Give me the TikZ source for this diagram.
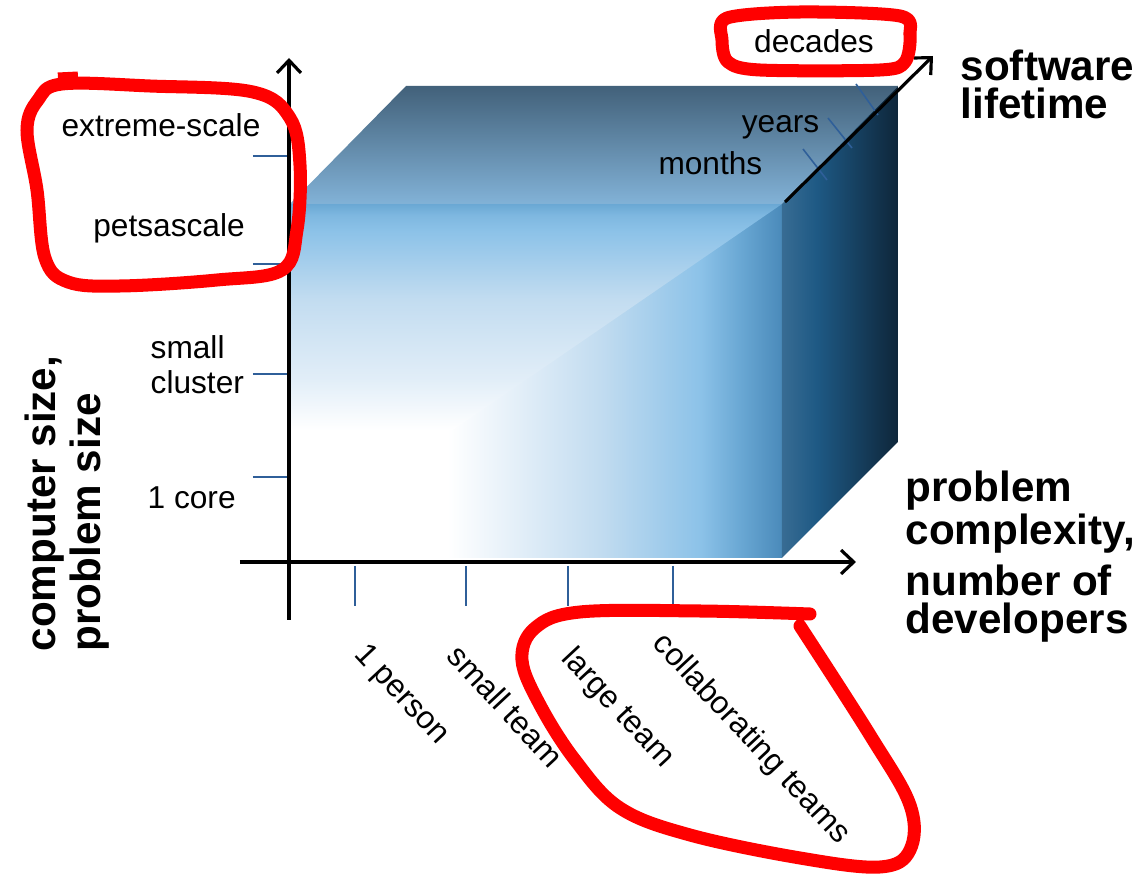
\documentclass[tikz,border=0pt]{standalone}
\usepackage{fontspec}
\setmainfont{Liberation Sans}
\usetikzlibrary{arrows.meta}

\definecolor{frontdark}{HTML}{4A8ABA}
\definecolor{frontmid}{HTML}{6AA8D4}
\definecolor{frontblue}{HTML}{8CC2E8}
\definecolor{frontpale}{HTML}{C2DCF0}
\definecolor{frontwash}{HTML}{E2EEF8}
\definecolor{topdark}{HTML}{42617A}
\definecolor{topmid}{HTML}{4E86AE}
\definecolor{toplight}{HTML}{82B2D7}
\definecolor{sidelight}{HTML}{386C93}
\definecolor{sidemid}{HTML}{1E5984}
\definecolor{sidedark}{HTML}{0E263A}
\definecolor{tickblue}{HTML}{2F5F99}
\definecolor{markred}{HTML}{FF0000}

\pgfdeclarehorizontalshading{frontacross}{100bp}{color(0bp)=(white); color(41bp)=(white); color(48.4bp)=(frontwash); color(56.5bp)=(frontpale); color(66.7bp)=(frontblue); color(70.7bp)=(frontmid); color(75bp)=(frontdark); color(100bp)=(frontdark)}
\pgfdeclareverticalshading{frontdown}{100bp}{color(0bp)=(white); color(25bp)=(white); color(36bp)=(frontwash); color(54bp)=(frontpale); color(69bp)=(frontblue); color(72.5bp)=(frontblue!60!frontmid); color(75bp)=(frontmid); color(100bp)=(frontmid)}
\pgfdeclarehorizontalshading{sideface}{100bp}{color(0bp)=(sidelight); color(25bp)=(sidelight); color(40bp)=(sidemid); color(75bp)=(sidedark); color(100bp)=(sidedark)}

\tikzset{
  axisline/.style={line width=0.9pt, -{Straight Barb[length=3.6pt,width=6.8pt,line width=0.9pt]}},
  tickmark/.style={tickblue, line width=0.45pt},
  markup/.style={markred, line width=3.7pt, line cap=round, line join=round},
  lbl/.style={font=\fontsize{9}{9.9}\selectfont, inner sep=0pt, align=left},
  axislbl/.style={font=\fontsize{12}{11}\selectfont\bfseries, inner sep=0pt, align=left}
}

\begin{document}
\begin{tikzpicture}[x=0.01cm, y=-0.01cm]
  \fill[white] (0,0) rectangle (1141,879);
  \useasboundingbox (0,0) rectangle (1141,879);

  % the box
  \shade[shading=frontacross] (290,204) rectangle (782,558);
  \shade[shading=frontdown] (290,204) -- (782,204) -- (453,430) -- (290,430) -- cycle;
  \shade[top color=topdark, middle color=topmid, bottom color=toplight] (290,204) -- (406,86) -- (898,86) -- (782,204) -- cycle;
  \shade[shading=sideface] (782,204) -- (898,86) -- (898,442) -- (782,558) -- cycle;

  \coordinate (ybot) at (289,620);
  \coordinate (ytop) at (289,58);
  \coordinate (xleft) at (240,562);
  \coordinate (xright) at (856,562);
  \coordinate (zstart) at (785,202);
  \coordinate (zend) at (933,56);

  \foreach \x in {355,466,568,673}
    \draw[tickmark] (\x,566) -- (\x,606);
  \foreach \y in {156,264,374,477}
    \draw[tickmark] (253,\y) -- (288,\y);
  \draw[tickmark] (856,84) -- (878,115);
  \draw[tickmark] (828,118) -- (852,148);
  \draw[tickmark] (803,149) -- (827,180);

  \draw[axisline] (ybot) -- (ytop);
  \draw[axisline] (xleft) -- (xright);
  \draw[axisline] (zstart) -- (zend);

  \node[lbl, anchor=base] (decades) at (814,53) {decades};
  \node[lbl, anchor=base east] (years) at (820,133) {years};
  \node[lbl, anchor=base east] (months) at (763,175) {months};
  \node[axislbl, anchor=north west] (lifetime) at (960,49) {software\\lifetime};

  \node[lbl, anchor=base] (extreme) at (161,137) {extreme-scale};
  \node[lbl, anchor=base] (peta) at (169,237) {petsascale};
  \node[lbl, anchor=north west] (cluster) at (150,335) {small\\cluster};
  \node[lbl, anchor=base west] (core) at (147,509) {1 core};
  \node[axislbl, font=\fontsize{12}{12.8}\selectfont\bfseries, rotate=90, anchor=north west] (sizes) at (24,652) {computer size,\\problem size};

  \node[axislbl, anchor=north west] (complexity) at (905,470) {problem\\complexity,\\[2.3pt]number of\\developers};

  \node[lbl, rotate=-47, anchor=base west] (person) at (353,655) {1 person};
  \node[lbl, rotate=-47, anchor=base west] (smallteam) at (445,657) {small team};
  \node[lbl, rotate=-47, anchor=base west] (largeteam) at (560,659) {large team};
  \node[lbl, rotate=-47, anchor=base west] (collab) at (651,644) {collaborating teams};

  % hand-drawn marks
  \draw[markup] plot[smooth cycle, tension=0.6] coordinates {(62,84) (150,86) (253,92) (290,118) (300,165) (297,230) (282,270) (217,280) (120,286) (68,282) (45,258) (37,190) (27,130) (38,100)};
  \draw[markup, line cap=butt] (58,79) -- (78,78);
  \draw[markup] plot[smooth cycle, tension=0.5] coordinates {(727,18) (800,12) (900,16) (910,35) (905,62) (880,70) (760,70) (728,62) (722,40)};
  \draw[markup] plot[smooth, tension=0.6] coordinates {(810,614) (700,611) (580,612) (535,628) (522,660) (540,705) (575,760) (620,808) (690,835) (800,858) (880,867) (910,850) (910,805) (870,735) (800,626)};
\end{tikzpicture}
\end{document}
